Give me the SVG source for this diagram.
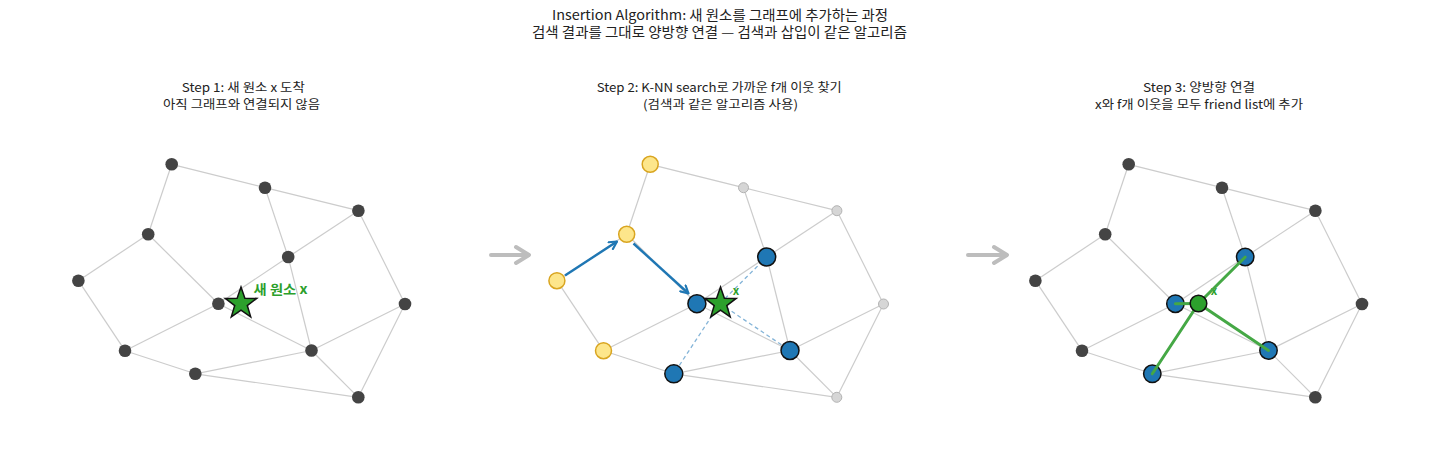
<svg xmlns="http://www.w3.org/2000/svg" xmlns:xlink="http://www.w3.org/1999/xlink" width="1440" height="452" viewBox="0 0 1440 452">
<style>
text{font-family:"Noto Sans CJK KR","Noto Sans",sans-serif;fill:#222;text-anchor:middle}
.title{font-size:13.6px}
.step{font-size:12.4px}
.lbl{font-weight:bold;fill:#2ca02c}
.edge{stroke:#cccccc;stroke-width:1.2;fill:none}
.dark{fill:#444444}
.gray{fill:#d6d6d6;stroke:#b3b3b3;stroke-width:1}
.yel{fill:#fde68b;stroke:#d9a520;stroke-width:1.5}
.blue{fill:#1f77b4;stroke:#111111;stroke-width:1.5}
.star{fill:#2ca02c;stroke:#111111;stroke-width:1.5;stroke-linejoin:miter}
.xnode{fill:#2ca02c;stroke:#111111;stroke-width:1.5}
.dash{stroke:#84b4d8;stroke-width:1.3;stroke-dasharray:4 3;fill:none}
.path{stroke:#1f77b4;stroke-width:2.4;fill:none;marker-end:url(#ah)}
.link{stroke:#45a845;stroke-width:3;fill:none;stroke-linecap:round}
.big{stroke:#bdbdbd;stroke-width:4;fill:none;stroke-linecap:round;stroke-linejoin:round}
</style>
<defs>
<marker id="ah" viewBox="0 0 10 10" refX="9" refY="5" markerWidth="10" markerHeight="10" markerUnits="userSpaceOnUse" orient="auto">
<path d="M1.5,1 L9,5 L1.5,9" fill="none" stroke="#1f77b4" stroke-width="2.2" stroke-linecap="round" stroke-linejoin="round"/>
</marker>
<path id="starshape" d="M0,-16.5 L3.88,-5.34 L15.69,-5.1 L6.28,2.04 L9.7,13.35 L0,6.6 L-9.7,13.35 L-6.28,2.04 L-15.69,-5.1 L-3.88,-5.34 Z"/>
<g id="edgeset">
<line x1="171.7" y1="164.3" x2="265" y2="187.7"/>
<line x1="265" y1="187.7" x2="358.4" y2="210.7"/>
<line x1="171.7" y1="164.3" x2="148.2" y2="234.3"/>
<line x1="265" y1="187.7" x2="288.2" y2="257"/>
<line x1="358.4" y1="210.7" x2="288.2" y2="257"/>
<line x1="358.4" y1="210.7" x2="405" y2="304"/>
<line x1="148.2" y1="234.3" x2="78.4" y2="280.7"/>
<line x1="148.2" y1="234.3" x2="218.4" y2="303.7"/>
<line x1="288.2" y1="257" x2="218.4" y2="303.7"/>
<line x1="288.2" y1="257" x2="311.5" y2="350.5"/>
<line x1="78.4" y1="280.7" x2="125" y2="350.7"/>
<line x1="218.4" y1="303.7" x2="125" y2="350.7"/>
<line x1="218.4" y1="303.7" x2="311.5" y2="350.5"/>
<line x1="405" y1="304" x2="311.5" y2="350.5"/>
<line x1="405" y1="304" x2="358.3" y2="397.3"/>
<line x1="125" y1="350.7" x2="195.3" y2="373.8"/>
<line x1="195.3" y1="373.8" x2="311.5" y2="350.5"/>
<line x1="195.3" y1="373.8" x2="358.3" y2="397.3"/>
<line x1="311.5" y1="350.5" x2="358.3" y2="397.3"/>
</g>
</defs>
<rect width="1440" height="452" fill="#ffffff"/>

<g id="titles">
<text class="title" x="720" y="19.5" textLength="336" lengthAdjust="spacingAndGlyphs">Insertion Algorithm: 새 원소를 그래프에 추가하는 과정</text>
<text class="title" x="719.5" y="37" textLength="375" lengthAdjust="spacingAndGlyphs">검색 결과를 그대로 양방향 연결 — 검색과 삽입이 같은 알고리즘</text>
<text class="step" x="243.3" y="92.3" textLength="123" lengthAdjust="spacingAndGlyphs">Step 1: 새 원소 x 도착</text>
<text class="step" x="241.5" y="109.3" textLength="157" lengthAdjust="spacingAndGlyphs">아직 그래프와 연결되지 않음</text>
<text class="step" x="719.2" y="92.3" textLength="245" lengthAdjust="spacingAndGlyphs">Step 2: K-NN search로 가까운 f개 이웃 찾기</text>
<text class="step" x="720.5" y="109.3" textLength="155" lengthAdjust="spacingAndGlyphs">(검색과 같은 알고리즘 사용)</text>
<text class="step" x="1199" y="92.3" textLength="112" lengthAdjust="spacingAndGlyphs">Step 3: 양방향 연결</text>
<text class="step" x="1199" y="109.3" textLength="208" lengthAdjust="spacingAndGlyphs">x와 f개 이웃을 모두 friend list에 추가</text>
</g>

<g id="connectors">
<g class="edge"><use xlink:href="#edgeset"/></g>
<g class="edge" transform="translate(478.5,0)"><use xlink:href="#edgeset"/></g>
<g class="edge" transform="translate(957,0)"><use xlink:href="#edgeset"/></g>
<path class="big" d="M491,255 H528 M516,247 L529,255 L516,263"/>
<path class="big" d="M968,255 H1006 M994,247 L1007,255 L994,263"/>
<line class="dash" x1="720" y1="303.5" x2="766.7" y2="257"/>
<line class="dash" x1="720" y1="303.5" x2="790" y2="350.5"/>
<line class="dash" x1="720" y1="303.5" x2="673.8" y2="373.8"/>
<line class="path" x1="565" y1="275.5" x2="617" y2="241.5"/>
<line class="path" x1="633.5" y1="243.5" x2="688.5" y2="293.5"/>
</g>

<g id="panel1">
<g id="p1-A"><circle class="dark" cx="171.7" cy="164.3" r="6.3"/></g>
<g id="p1-B"><circle class="dark" cx="265" cy="187.7" r="6.3"/></g>
<g id="p1-C"><circle class="dark" cx="358.4" cy="210.7" r="6.3"/></g>
<g id="p1-D"><circle class="dark" cx="148.2" cy="234.3" r="6.3"/></g>
<g id="p1-E"><circle class="dark" cx="288.2" cy="257" r="6.3"/></g>
<g id="p1-F"><circle class="dark" cx="78.4" cy="280.7" r="6.3"/></g>
<g id="p1-G"><circle class="dark" cx="218.4" cy="303.7" r="6.3"/></g>
<g id="p1-H"><circle class="dark" cx="405" cy="304" r="6.3"/></g>
<g id="p1-I"><circle class="dark" cx="125" cy="350.7" r="6.3"/></g>
<g id="p1-J"><circle class="dark" cx="311.5" cy="350.5" r="6.3"/></g>
<g id="p1-K"><circle class="dark" cx="195.3" cy="373.8" r="6.3"/></g>
<g id="p1-L"><circle class="dark" cx="358.3" cy="397.3" r="6.3"/></g>
<g id="p1-x"><use xlink:href="#starshape" class="star" transform="translate(241,303.5)"/>
<text class="lbl" x="253.5" y="293.5" font-size="13" style="text-anchor:start" textLength="54" lengthAdjust="spacingAndGlyphs">새 원소 x</text></g>
</g>

<g id="panel2">
<g id="p2-A"><circle class="yel" cx="650.2" cy="164.3" r="8"/></g>
<g id="p2-B"><circle class="gray" cx="743.5" cy="187.7" r="5"/></g>
<g id="p2-C"><circle class="gray" cx="836.9" cy="210.7" r="5"/></g>
<g id="p2-D"><circle class="yel" cx="626.7" cy="234.3" r="8"/></g>
<g id="p2-E"><circle class="blue" cx="766.7" cy="257" r="9"/></g>
<g id="p2-F"><circle class="yel" cx="556.9" cy="280.7" r="8"/></g>
<g id="p2-G"><circle class="blue" cx="696.9" cy="303.7" r="9"/></g>
<g id="p2-H"><circle class="gray" cx="883.5" cy="304" r="5"/></g>
<g id="p2-I"><circle class="yel" cx="603.5" cy="350.7" r="8"/></g>
<g id="p2-J"><circle class="blue" cx="790" cy="350.5" r="9"/></g>
<g id="p2-K"><circle class="blue" cx="673.8" cy="373.8" r="9"/></g>
<g id="p2-L"><circle class="gray" cx="836.8" cy="397.3" r="5"/></g>
<g id="p2-x"><use xlink:href="#starshape" class="star" transform="translate(720.5,303.5)"/>
<text class="lbl" x="736" y="295" font-size="11.5">x</text></g>
</g>

<g id="panel3">
<g id="p3-A"><circle class="dark" cx="1128.7" cy="164.3" r="6.3"/></g>
<g id="p3-B"><circle class="dark" cx="1222" cy="187.7" r="6.3"/></g>
<g id="p3-C"><circle class="dark" cx="1315.4" cy="210.7" r="6.3"/></g>
<g id="p3-D"><circle class="dark" cx="1105.2" cy="234.3" r="6.3"/></g>
<g id="p3-F"><circle class="dark" cx="1035.4" cy="280.7" r="6.3"/></g>
<g id="p3-H"><circle class="dark" cx="1362" cy="304" r="6.3"/></g>
<g id="p3-I"><circle class="dark" cx="1082" cy="350.7" r="6.3"/></g>
<g id="p3-L"><circle class="dark" cx="1315.3" cy="397.3" r="6.3"/></g>
<g id="p3-E"><circle class="blue" cx="1245.2" cy="257" r="8.7"/></g>
<g id="p3-G"><circle class="blue" cx="1175.4" cy="303.7" r="8.7"/></g>
<g id="p3-J"><circle class="blue" cx="1268.5" cy="350.5" r="8.7"/></g>
<g id="p3-K"><circle class="blue" cx="1152.3" cy="373.8" r="8.7"/></g>
<text class="lbl" x="1214" y="295" font-size="11.5">x</text>
<g id="p3-links">
<line class="link" x1="1198.5" y1="303.5" x2="1175.4" y2="303.7"/>
<line class="link" x1="1198.5" y1="303.5" x2="1245.2" y2="257"/>
<line class="link" x1="1198.5" y1="303.5" x2="1268.5" y2="350.5"/>
<line class="link" x1="1198.5" y1="303.5" x2="1152.3" y2="373.8"/>
</g>
<g id="p3-x"><circle class="xnode" cx="1198.5" cy="303.5" r="8.3"/></g>
</g>
</svg>
